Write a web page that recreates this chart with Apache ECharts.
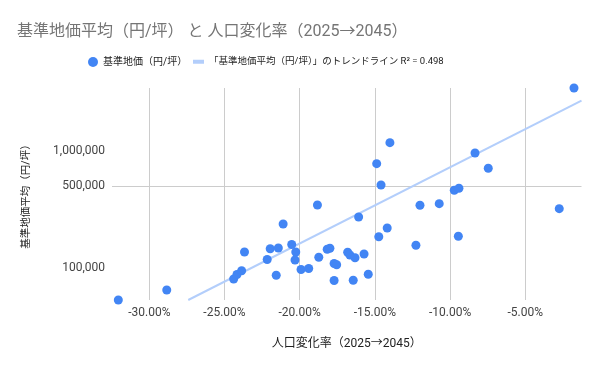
<!DOCTYPE html>
<html><head><meta charset="utf-8">
<script src="https://cdn.jsdelivr.net/npm/echarts@6/dist/echarts.min.js"></script>
<style>html,body{margin:0;padding:0;background:#fff}#c{width:600px;height:371px}</style>
</head><body><div id="c"></div>
<script>
// 人口変化率 (%)
const popChange = [-32.06, -28.84, -24.39, -24.17, -23.86, -23.67, -22.16, -21.96, -21.42, -21.56,
  -21.10, -20.53, -20.26, -20.31, -19.91, -19.40, -18.82, -18.73, -18.17, -17.99,
  -17.71, -17.54, -17.71, -16.81, -16.66, -16.32, -15.72, -16.44, -15.44, -16.08,
  -14.74, -14.18, -14.88, -14.59, -14.00, -12.27, -12.00, -10.72, -9.72, -9.41,
  -9.45, -8.34, -7.46, -2.74, -1.76];
// 基準地価 (円/坪)
const landPrice = [53700, 65300, 81100, 88500, 95400, 137700, 118900, 146700, 148900, 87200,
  238600, 159600, 137700, 117700, 97700, 99600, 346500, 124300, 145200, 148100,
  109900, 107300, 78700, 136900, 129800, 122900, 132400, 79200, 89100, 273700,
  185600, 220600, 779500, 513100, 1177000, 157100, 344500, 355400, 462400, 480800,
  187400, 961500, 712000, 322200, 3440000];
// trendline endpoints
const trendX = [-27.41, -1.26];
const trendY = [53700, 2690000];
const yTicks = [100000, 500000, 1000000];
const xRange = [-32.48, -1.26];
const yRange = [53700, 3440000];

const FONT = 'Roboto, "Noto Sans CJK JP", sans-serif';
const chart = echarts.init(document.getElementById('c'));
const scatterName = '基準地価（円/坪）';
const trendName = '「基準地価平均（円/坪）」のトレンドライン R² = 0.498';

chart.setOption({
  animation: false,
  textStyle: { fontFamily: FONT },
  title: {
    text: '基準地価平均（円/坪） と 人口変化率（2025→2045）',
    left: 17, top: 24, padding: 0,
    textStyle: { fontSize: 16, fontWeight: 'normal', color: '#757575', fontFamily: FONT }
  },
  legend: [
    { data: [{ name: scatterName, icon: 'circle' }], left: 88, top: 57, padding: 0,
      itemWidth: 10, itemHeight: 10,
      textStyle: { fontSize: 10, color: '#222', fontFamily: FONT } },
    { data: [{ name: trendName, icon: 'rect' }], left: 193, top: 57, padding: 0,
      itemWidth: 11, itemHeight: 4,
      textStyle: { fontSize: 9.5, color: '#222', fontFamily: FONT } }
  ],
  grid: { left: 112, right: 18.5, top: 88, bottom: 71, containLabel: false },
  xAxis: {
    type: 'value', min: xRange[0], max: xRange[1], splitNumber: 6,
    name: '人口変化率（2025→2045）', nameLocation: 'middle', nameGap: 38,
    nameTextStyle: { fontSize: 12, color: '#222', fontFamily: FONT },
    axisLine: { show: false }, axisTick: { show: false },
    axisLabel: { fontSize: 12, color: '#444', margin: 7, showMinLabel: false, showMaxLabel: false,
      formatter: v => v.toFixed(2) + '%' },
    splitLine: { show: true, showMinLine: false, showMaxLine: false, lineStyle: { color: '#cccccc', width: 1 } }
  },
  yAxis: {
    type: 'log', logBase: 10, min: yRange[0], max: yRange[1],
    name: '基準地価平均（円/坪）', nameLocation: 'middle', nameGap: 80, nameRotate: 90,
    nameTextStyle: { fontSize: 10.5, color: '#222', fontFamily: FONT },
    axisLine: { show: false },
    axisTick: { show: false, customValues: yTicks },
    axisLabel: { fontSize: 12, color: '#444', margin: 7, customValues: yTicks,
      formatter: v => Math.round(v).toLocaleString('en-US') },
    splitLine: { show: true, showMinLine: false, showMaxLine: false, lineStyle: { color: '#cccccc', width: 1 } }
  },
  series: [
    { name: trendName, type: 'line', data: trendX.map((x, i) => [x, trendY[i]]),
      symbol: 'none', clip: true, z: 1,
      itemStyle: { color: '#b3cefb' },
      lineStyle: { color: '#b3cefb', width: 2 } },
    { name: scatterName, type: 'scatter', data: popChange.map((x, i) => [x, landPrice[i]]),
      symbolSize: 9, clip: false, z: 2,
      itemStyle: { color: '#4285f4', opacity: 1 } }
  ]
});
</script>
</body></html>
